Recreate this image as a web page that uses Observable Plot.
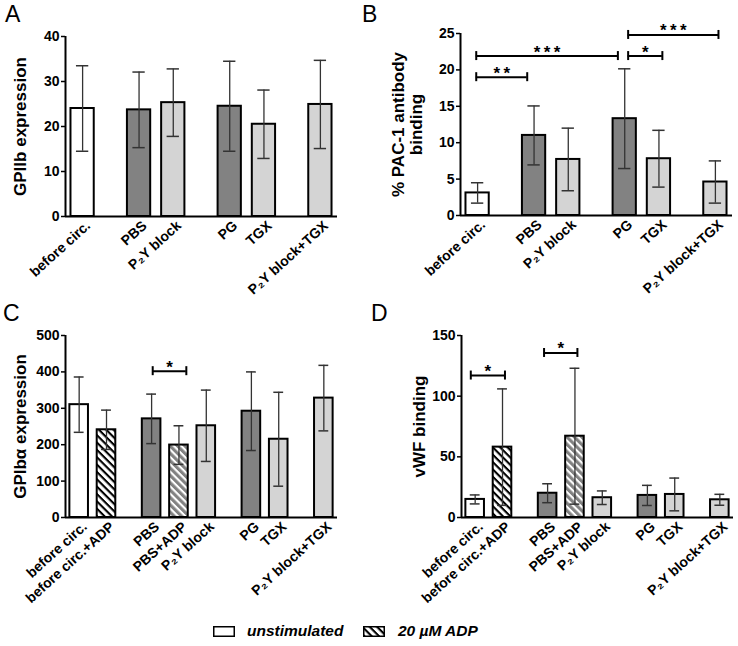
<!DOCTYPE html>
<html><head><meta charset="utf-8">
<script src="https://cdn.jsdelivr.net/npm/d3@7"></script>
<script src="https://cdn.jsdelivr.net/npm/@observablehq/plot@0.6"></script>
<style>
body{margin:0;background:#fff;}
#fig{position:relative;width:738px;height:646px;font-family:"Liberation Sans",Arial,sans-serif;overflow:hidden;background:#fff;}
.panel{position:absolute;width:369px;height:300px;}
.panel svg{overflow:visible;background:transparent;}
.letter{position:absolute;font-size:23px;line-height:23px;color:#000;}
.leg{position:absolute;font-weight:bold;font-style:italic;font-size:15.5px;line-height:16px;color:#000;white-space:nowrap;}
.box{position:absolute;}
</style></head><body><div id="fig"></div>
<script>
// ---------- data ----------
const catsAB   = ["before circ.", "PBS", "P\u2082Y block", "PG", "TGX", "P\u2082Y block+TGX"];
const groupsAB = [0, 1, 1, 2, 2, 3];
const fillsAB  = ["white", "dark", "light", "dark", "light", "light"];

const catsCD   = ["before circ.", "before circ.+ADP", "PBS", "PBS+ADP", "P\u2082Y block", "PG", "TGX", "P\u2082Y block+TGX"];
const groupsCD = [0, 0, 1, 1, 1, 2, 2, 3];
const fillsCD  = ["white", "hatchWhite", "dark", "hatchDark", "light", "dark", "light", "light"];

// A: GPIIb expression (mean, SD)
const meanA = [24.0, 23.7, 25.3, 24.5, 20.5, 24.9];
const sdA   = [9.5, 8.4, 7.5, 10.0, 7.6, 9.8];
const ticksA = [0, 10, 20, 30, 40];

// B: % PAC-1 antibody binding
const meanB = [3.1, 11.0, 7.7, 13.3, 7.8, 4.6];
const sdB   = [1.4, 4.05, 4.3, 6.85, 3.9, 2.9];
const ticksB = [0, 5, 10, 15, 20, 25];
const bracketsB = [
  {from: 0, fs: -0.04, to: 1, ts: -0.2, y: 19.0, label: "**"},
  {from: 0, fs: -0.04, to: 3, ts: -0.2, y: 21.9, label: "***"},
  {from: 3, fs: 0.1,  to: 4, ts: 0.1,  y: 21.9, label: "*"},
  {from: 3, fs: 0.1,  to: 5, ts: 0.09, y: 24.8, label: "***"}
];

// C: GPIb alpha expression
const meanC = [310, 241, 271, 199, 252, 292, 215, 328];
const sdC   = [76, 54, 68, 53, 98, 108, 129, 90];
const ticksC = [0, 100, 200, 300, 400, 500];
const bracketsC = [
  {from: 2, fs: 0.04, to: 3, ts: 0.27, y: 402, label: "*"}
];

// D: vWF binding
const meanD = [14.9, 58, 20, 67, 16.3, 18.2, 19, 14.6];
const sdD   = [3.7, 48, 7.8, 56, 5.6, 8.3, 13.5, 4.5];
const ticksD = [0, 50, 100, 150];
const bracketsD = [
  {from: 0, fs: -0.16, to: 1, ts: 0.09, y: 117, label: "*"},
  {from: 2, fs: -0.13, to: 3, ts: 0.09, y: 135.6, label: "*"}
];

// ---------- layout ----------
const FONT = '"Liberation Sans", Arial, sans-serif';
const GAP = 0.65, HW = 0.34, CAP = 0.18;
const fig = document.getElementById("fig");

function fillColor(id, f) {
  return {white: "#ffffff", dark: "#828282", light: "#d4d4d4",
          hatchWhite: `url(#${id}-hw)`, hatchDark: `url(#${id}-hd)`}[f];
}

function addPatterns(svg, id) {
  const defs = d3.select(svg).insert("defs", ":first-child");
  const mk = (pid, bg, fg) => {
    const p = defs.append("pattern").attr("id", pid).attr("patternUnits", "userSpaceOnUse")
      .attr("width", 5.2).attr("height", 5.2).attr("patternTransform", "rotate(45)");
    p.append("rect").attr("width", 5.2).attr("height", 5.2).attr("fill", bg);
    p.append("rect").attr("width", 5.2).attr("height", 2.1).attr("fill", fg);
  };
  mk(`${id}-hw`, "#ffffff", "#000000");
  mk(`${id}-hd`, "#828282", "#ffffff");
}

function panel(cfg) {
  const {id, cats, groups, fills, means, sds, yMax, yTicks, yLabel, brackets, labelDx, m, left, top} = cfg;
  const pos = cats.map((c, i) => i + GAP * groups[i]);
  const rows = cats.map((c, i) => ({cat: c, x: pos[i], m: means[i], s: sds[i], f: fillColor(id, fills[i])}));
  const xDom = [-0.5, pos[pos.length - 1] + 0.5];
  const W = 369, H = 300;
  const plotH = H - m.top - m.bottom;
  const tickD = yMax * 4.5 / plotH;
  const br = brackets.map(b => ({x1: pos[b.from] + b.fs, x2: pos[b.to] + b.ts, y: b.y,
                                 label: b.label.split("").join("\u2009")}));
  const svg = Plot.plot({
    width: W, height: H,
    marginLeft: m.left, marginRight: m.right, marginTop: m.top, marginBottom: m.bottom,
    x: {domain: xDom, axis: null},
    y: {domain: [0, yMax], axis: null},
    color: {type: "identity"},
    style: {fontFamily: FONT, background: "transparent", overflow: "visible"},
    marks: [
      Plot.rect(rows, {x1: d => d.x - HW, x2: d => d.x + HW, y1: 0, y2: "m", fill: "f", stroke: "#000", strokeWidth: 2}),
      Plot.ruleX(rows, {x: "x", y1: d => d.m - d.s, y2: d => d.m + d.s, stroke: "#333", strokeWidth: 1.3}),
      Plot.ruleY(rows, {y: d => d.m + d.s, x1: d => d.x - CAP, x2: d => d.x + CAP, stroke: "#333", strokeWidth: 1.5}),
      Plot.ruleY(rows, {y: d => d.m - d.s, x1: d => d.x - CAP, x2: d => d.x + CAP, stroke: "#333", strokeWidth: 1.5}),
      Plot.ruleX([xDom[0]], {y1: 0, y2: yMax, stroke: "#000", strokeWidth: 2}),
      Plot.ruleY([0], {x1: xDom[0], x2: xDom[1], stroke: "#000", strokeWidth: 2}),
      Plot.axisY(yTicks, {tickSize: 4, tickPadding: 2, fontSize: 14, fontWeight: "bold", strokeWidth: 1.5, label: null}),
      Plot.text(rows, {x: "x", frameAnchor: "bottom", text: "cat", rotate: -42, textAnchor: "end",
                       lineAnchor: "top", dx: 2, dy: 3, fontSize: 14, fontWeight: "bold"}),
      Plot.text([yLabel], {text: d => d, frameAnchor: "left", rotate: -90, dx: labelDx, lineAnchor: "bottom",
                           textAnchor: "middle", fontSize: 17, fontWeight: "bold", lineHeight: 1.05}),
      Plot.ruleY(br, {y: "y", x1: "x1", x2: "x2", stroke: "#000", strokeWidth: 2}),
      Plot.ruleX(br, {x: "x1", y1: d => d.y - tickD, y2: d => d.y + tickD, stroke: "#000", strokeWidth: 2}),
      Plot.ruleX(br, {x: "x2", y1: d => d.y - tickD, y2: d => d.y + tickD, stroke: "#000", strokeWidth: 2}),
      Plot.text(br, {x: d => (d.x1 + d.x2) / 2, y: "y", text: "label", fontSize: 17, fontWeight: "bold",
                     lineAnchor: "middle", dy: -4})
    ]
  });
  addPatterns(svg, id);
  const div = document.createElement("div");
  div.className = "panel";
  div.style.left = left + "px";
  div.style.top = top + "px";
  div.appendChild(svg);
  fig.appendChild(div);
}

panel({id: "a", cats: catsAB, groups: groupsAB, fills: fillsAB, means: meanA, sds: sdA,
       yMax: 40, yTicks: ticksA, yLabel: "GPIIb expression", brackets: [], labelDx: -40,
       m: {left: 65, right: 32, top: 36, bottom: 84}, left: 0, top: 0});
panel({id: "b", cats: catsAB, groups: groupsAB, fills: fillsAB, means: meanB, sds: sdB,
       yMax: 25, yTicks: ticksB, yLabel: "% PAC-1 antibody\nbinding", brackets: bracketsB, labelDx: -39,
       m: {left: 91, right: 6, top: 33, bottom: 85}, left: 369, top: 0});
panel({id: "c", cats: catsCD, groups: groupsCD, fills: fillsCD, means: meanC, sds: sdC,
       yMax: 500, yTicks: ticksC, yLabel: "GPIb\u03b1 expression", brackets: bracketsC, labelDx: -40,
       m: {left: 65, right: 32, top: 35, bottom: 83}, left: 0, top: 300});
panel({id: "d", cats: catsCD, groups: groupsCD, fills: fillsCD, means: meanD, sds: sdD,
       yMax: 150, yTicks: ticksD, yLabel: "vWF binding", brackets: bracketsD, labelDx: -37,
       m: {left: 92, right: 5, top: 35, bottom: 83}, left: 369, top: 300});

// panel letters
[["A", 5, 2.5], ["B", 362, 2.5], ["C", 3, 301.5], ["D", 371, 301.5]].forEach(([t, x, y]) => {
  const d = document.createElement("div");
  d.className = "letter"; d.textContent = t;
  d.style.left = x + "px"; d.style.top = y + "px";
  fig.appendChild(d);
});

// legend
const legendItems = [
  {label: "unstimulated", fill: "white", boxX: 213, textX: 247},
  {label: "20 \u00b5M ADP", fill: "hatchWhite", boxX: 363, textX: 398}
];
legendItems.forEach((it, i) => {
  const s = d3.create("svg").attr("width", 22).attr("height", 11).attr("class", "box")
    .style("left", it.boxX + "px").style("top", "626px").style("overflow", "visible");
  const pid = "leg" + i;
  const defs = s.append("defs");
  const p = defs.append("pattern").attr("id", pid).attr("patternUnits", "userSpaceOnUse")
    .attr("width", 5.2).attr("height", 5.2).attr("patternTransform", "rotate(45)");
  p.append("rect").attr("width", 5.2).attr("height", 5.2).attr("fill", "#fff");
  p.append("rect").attr("width", 5.2).attr("height", 2.1).attr("fill", it.fill === "white" ? "#fff" : "#000");
  s.append("rect").attr("x", 0.75).attr("y", 0.75).attr("width", 20.5).attr("height", 9.5)
    .attr("fill", `url(#${pid})`).attr("stroke", "#000").attr("stroke-width", 1.5);
  fig.appendChild(s.node());
  const t = document.createElement("div");
  t.className = "leg"; t.textContent = it.label;
  t.style.left = it.textX + "px"; t.style.top = "623px";
  fig.appendChild(t);
});
</script></body></html>
